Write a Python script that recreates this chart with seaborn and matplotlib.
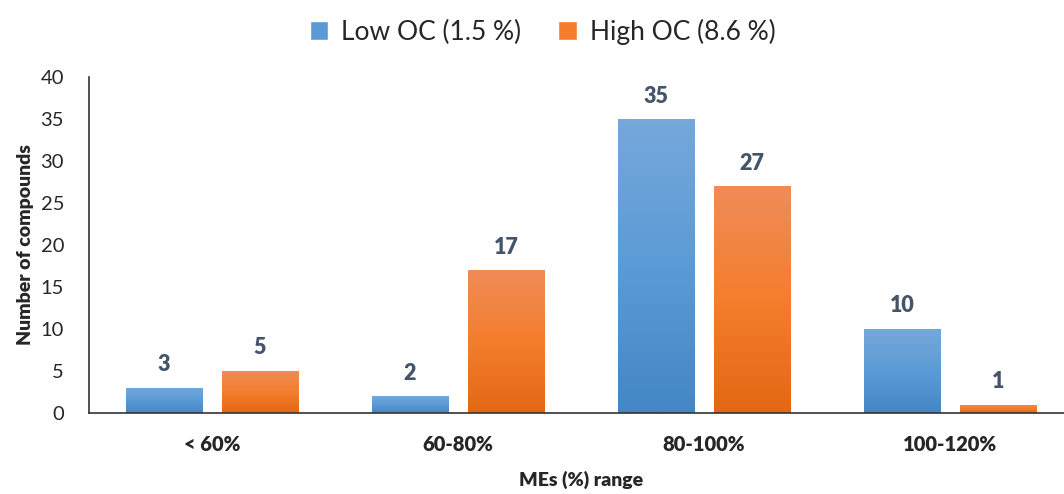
import numpy as np
import pandas as pd
import seaborn as sns
import matplotlib.pyplot as plt
from matplotlib.colors import LinearSegmentedColormap
from matplotlib.patches import Patch

sns.set_style('white')
plt.rcParams['font.family'] = ['Lato', 'DejaVu Sans']

categories = ['< 60%', '60-80%', '80-100%', '100-120%']
series = ['Low OC (1.5 %)', 'High OC (8.6 %)']
low_oc = [3, 2, 35, 10]
high_oc = [5, 17, 27, 1]

df = pd.DataFrame({
    'range': categories * 2,
    'series': [series[0]] * 4 + [series[1]] * 4,
    'count': low_oc + high_oc,
})

blue_grad = ['#75A8DB', '#5B9BD5', '#4487C6']
orange_grad = ['#F08C58', '#F47E2C', '#E36814']

fig = plt.figure(figsize=(10.64, 4.94), dpi=100)
ax = fig.add_axes([89 / 1064, 1 - 413 / 494, (1073 - 89) / 1064, (413 - 77) / 494])

sns.barplot(data=df, x='range', y='count', hue='series', order=categories,
            hue_order=series, palette=['#5B9BD5', '#F47E2C'], width=0.78, gap=0.2,
            ax=ax, legend=False)

# gradient fill on top of each bar
grads = [blue_grad] * 4 + [orange_grad] * 4
for patch, cols in zip(ax.patches, grads):
    x0, y0 = patch.get_x(), patch.get_y()
    w, h = patch.get_width(), patch.get_height()
    cmap = LinearSegmentedColormap.from_list('g', cols[::-1])
    img = ax.imshow(np.linspace(0, 1, 100).reshape(-1, 1), cmap=cmap, aspect='auto',
                    extent=[x0, x0 + w, y0, y0 + h], origin='lower', zorder=patch.get_zorder())
    img.set_clip_path(patch)
    patch.set_edgecolor('none')

for c in ax.containers:
    ax.bar_label(c, padding=9, fontsize=15.5, fontweight='heavy', color='#44546A')

ax.set_xlim(-0.5, 3.5)
ax.set_ylim(0, 40)
ax.set_yticks(range(0, 41, 5))
ax.tick_params(axis='y', labelsize=14.5, pad=18, length=0)
ax.tick_params(axis='x', labelsize=14.5, pad=16, length=0)
for lab in ax.get_xticklabels():
    lab.set_fontweight('heavy')
ax.set_xlabel('MEs (%) range', fontsize=14, fontweight='heavy', labelpad=12)
ax.set_ylabel('Number of compounds', fontsize=14, fontweight='heavy', labelpad=5)
for s in ['top', 'right']:
    ax.spines[s].set_visible(False)
for s in ['left', 'bottom']:
    ax.spines[s].set_color('#333333')
    ax.spines[s].set_linewidth(1.2)

handles = [Patch(facecolor='#5B9BD5', label=series[0]),
           Patch(facecolor='#F47E2C', label=series[1])]
fig.legend(handles=handles, loc='upper center', bbox_to_anchor=(0.51, 1.01), ncol=2,
           frameon=False, fontsize=19, handlelength=0.7, handleheight=0.7,
           columnspacing=1.4, handletextpad=0.5)

fig.savefig('out.png', dpi=100)
